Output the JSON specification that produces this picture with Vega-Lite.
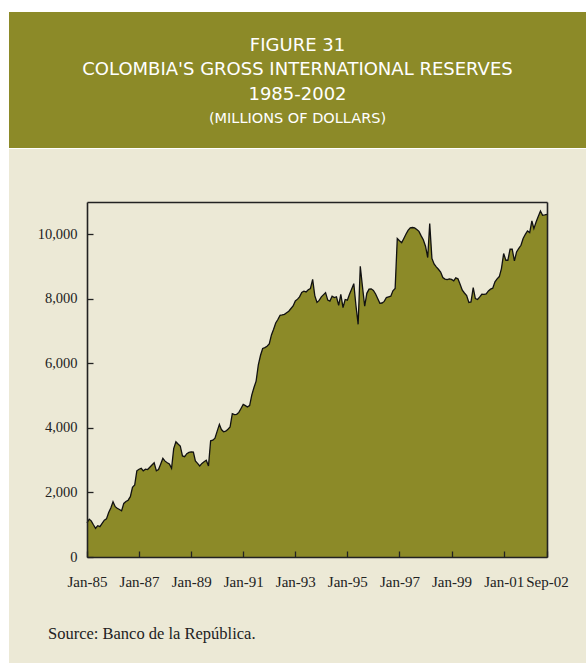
{
"$schema": "https://vega.github.io/schema/vega-lite/v6.json",
"background": "#ffffff",
"padding": {"left": 9, "top": 12, "right": 0, "bottom": 0},
"config": {"concat": {"spacing": 1}, "view": {"stroke": null}},
"vconcat": [
{
"width": 577, "height": 136,
"view": {"fill": "#8c8a28", "stroke": null},
"data": {"values": [
{"line": 1, "label": "FIGURE 31"},
{"line": 2, "label": "COLOMBIA'S GROSS INTERNATIONAL RESERVES"},
{"line": 3, "label": "1985-2002"},
{"line": 4, "label": "(MILLIONS OF DOLLARS)"}
]},
"layer": [
{"transform": [{"filter": "datum.line < 4"}],
 "mark": {"type": "text", "font": "DejaVu Sans", "fontSize": 18, "color": "#ffffff", "baseline": "middle", "align": "center"},
 "encoding": {"y": {"field": "line", "type": "ordinal", "scale": {"type": "point", "domain": [1,2,3,4], "range": [34,107], "padding": 0}, "axis": null}, "text": {"field": "label"}}},
{"transform": [{"filter": "datum.line == 4"}],
 "mark": {"type": "text", "font": "DejaVu Sans", "fontSize": 14.5, "color": "#ffffff", "baseline": "middle", "align": "center"},
 "encoding": {"y": {"field": "line", "type": "ordinal", "scale": {"type": "point", "domain": [1,2,3,4], "range": [34,107], "padding": 0}, "axis": null}, "text": {"field": "label"}}}
]
},
{
"width": 577, "height": 514,
"view": {"fill": "#ece9d6", "stroke": null},
"title": {"text": "Source: Banco de la República.", "orient": "bottom", "anchor": "start", "frame": "group", "offset": -37, "dx": 39, "font": "Liberation Serif", "fontSize": 16.5, "fontWeight": "normal", "color": "#222222"},
"data": {"values": [
{"date":"1985-01","value":1060},{"date":"1985-02","value":1170},{"date":"1985-03","value":1120},{"date":"1985-04","value":1000},{"date":"1985-05","value":890},{"date":"1985-06","value":970},{"date":"1985-07","value":940},{"date":"1985-08","value":1040},{"date":"1985-09","value":1140},{"date":"1985-10","value":1180},{"date":"1985-11","value":1380},{"date":"1985-12","value":1520},
{"date":"1986-01","value":1710},{"date":"1986-02","value":1560},{"date":"1986-03","value":1510},{"date":"1986-04","value":1470},{"date":"1986-05","value":1430},{"date":"1986-06","value":1660},{"date":"1986-07","value":1720},{"date":"1986-08","value":1760},{"date":"1986-09","value":1870},{"date":"1986-10","value":2160},{"date":"1986-11","value":2230},{"date":"1986-12","value":2670},
{"date":"1987-01","value":2720},{"date":"1987-02","value":2750},{"date":"1987-03","value":2670},{"date":"1987-04","value":2720},{"date":"1987-05","value":2710},{"date":"1987-06","value":2780},{"date":"1987-07","value":2850},{"date":"1987-08","value":2920},{"date":"1987-09","value":2670},{"date":"1987-10","value":2710},{"date":"1987-11","value":2880},{"date":"1987-12","value":3055},
{"date":"1988-01","value":2970},{"date":"1988-02","value":2920},{"date":"1988-03","value":2880},{"date":"1988-04","value":2750},{"date":"1988-05","value":3360},{"date":"1988-06","value":3570},{"date":"1988-07","value":3500},{"date":"1988-08","value":3440},{"date":"1988-09","value":3130},{"date":"1988-10","value":3110},{"date":"1988-11","value":3200},{"date":"1988-12","value":3240},
{"date":"1989-01","value":3260},{"date":"1989-02","value":3250},{"date":"1989-03","value":2980},{"date":"1989-04","value":2900},{"date":"1989-05","value":2820},{"date":"1989-06","value":2900},{"date":"1989-07","value":2950},{"date":"1989-08","value":3000},{"date":"1989-09","value":2820},{"date":"1989-10","value":3600},{"date":"1989-11","value":3620},{"date":"1989-12","value":3680},
{"date":"1990-01","value":3900},{"date":"1990-02","value":4110},{"date":"1990-03","value":3950},{"date":"1990-04","value":3880},{"date":"1990-05","value":3900},{"date":"1990-06","value":3960},{"date":"1990-07","value":4030},{"date":"1990-08","value":4440},{"date":"1990-09","value":4410},{"date":"1990-10","value":4420},{"date":"1990-11","value":4480},{"date":"1990-12","value":4600},
{"date":"1991-01","value":4730},{"date":"1991-02","value":4690},{"date":"1991-03","value":4650},{"date":"1991-04","value":4690},{"date":"1991-05","value":5015},{"date":"1991-06","value":5250},{"date":"1991-07","value":5450},{"date":"1991-08","value":5950},{"date":"1991-09","value":6250},{"date":"1991-10","value":6460},{"date":"1991-11","value":6490},{"date":"1991-12","value":6530},
{"date":"1992-01","value":6600},{"date":"1992-02","value":6880},{"date":"1992-03","value":7050},{"date":"1992-04","value":7250},{"date":"1992-05","value":7360},{"date":"1992-06","value":7490},{"date":"1992-07","value":7500},{"date":"1992-08","value":7520},{"date":"1992-09","value":7570},{"date":"1992-10","value":7616},{"date":"1992-11","value":7700},{"date":"1992-12","value":7780},
{"date":"1993-01","value":7935},{"date":"1993-02","value":7990},{"date":"1993-03","value":8060},{"date":"1993-04","value":8200},{"date":"1993-05","value":8235},{"date":"1993-06","value":8214},{"date":"1993-07","value":8280},{"date":"1993-08","value":8320},{"date":"1993-09","value":8600},{"date":"1993-10","value":8100},{"date":"1993-11","value":7890},{"date":"1993-12","value":7950},
{"date":"1994-01","value":8060},{"date":"1994-02","value":8130},{"date":"1994-03","value":8190},{"date":"1994-04","value":7960},{"date":"1994-05","value":7930},{"date":"1994-06","value":8080},{"date":"1994-07","value":8040},{"date":"1994-08","value":8060},{"date":"1994-09","value":7800},{"date":"1994-10","value":8140},{"date":"1994-11","value":7730},{"date":"1994-12","value":7980},
{"date":"1995-01","value":7960},{"date":"1995-02","value":8150},{"date":"1995-03","value":8300},{"date":"1995-04","value":8470},{"date":"1995-05","value":7800},{"date":"1995-06","value":7210},{"date":"1995-07","value":9010},{"date":"1995-08","value":8370},{"date":"1995-09","value":7770},{"date":"1995-10","value":8170},{"date":"1995-11","value":8300},{"date":"1995-12","value":8310},
{"date":"1996-01","value":8260},{"date":"1996-02","value":8150},{"date":"1996-03","value":8010},{"date":"1996-04","value":7860},{"date":"1996-05","value":7870},{"date":"1996-06","value":7920},{"date":"1996-07","value":8040},{"date":"1996-08","value":8060},{"date":"1996-09","value":8080},{"date":"1996-10","value":8250},{"date":"1996-11","value":8320},{"date":"1996-12","value":9870},
{"date":"1997-01","value":9800},{"date":"1997-02","value":9740},{"date":"1997-03","value":9860},{"date":"1997-04","value":10000},{"date":"1997-05","value":10120},{"date":"1997-06","value":10200},{"date":"1997-07","value":10210},{"date":"1997-08","value":10195},{"date":"1997-09","value":10150},{"date":"1997-10","value":10090},{"date":"1997-11","value":9950},{"date":"1997-12","value":9830},
{"date":"1998-01","value":9630},{"date":"1998-02","value":9280},{"date":"1998-03","value":10330},{"date":"1998-04","value":9250},{"date":"1998-05","value":9080},{"date":"1998-06","value":8990},{"date":"1998-07","value":8916},{"date":"1998-08","value":8830},{"date":"1998-09","value":8660},{"date":"1998-10","value":8610},{"date":"1998-11","value":8597},{"date":"1998-12","value":8620},
{"date":"1999-01","value":8600},{"date":"1999-02","value":8555},{"date":"1999-03","value":8650},{"date":"1999-04","value":8620},{"date":"1999-05","value":8450},{"date":"1999-06","value":8266},{"date":"1999-07","value":8180},{"date":"1999-08","value":8100},{"date":"1999-09","value":7885},{"date":"1999-10","value":7905},{"date":"1999-11","value":8349},{"date":"1999-12","value":8009},
{"date":"2000-01","value":7978},{"date":"2000-02","value":8060},{"date":"2000-03","value":8142},{"date":"2000-04","value":8140},{"date":"2000-05","value":8150},{"date":"2000-06","value":8245},{"date":"2000-07","value":8300},{"date":"2000-08","value":8330},{"date":"2000-09","value":8524},{"date":"2000-10","value":8620},{"date":"2000-11","value":8690},{"date":"2000-12","value":8937},
{"date":"2001-01","value":9403},{"date":"2001-02","value":9195},{"date":"2001-03","value":9195},{"date":"2001-04","value":9536},{"date":"2001-05","value":9536},{"date":"2001-06","value":9174},{"date":"2001-07","value":9452},{"date":"2001-08","value":9560},{"date":"2001-09","value":9660},{"date":"2001-10","value":9867},{"date":"2001-11","value":10000},{"date":"2001-12","value":10102},
{"date":"2002-01","value":10052},{"date":"2002-02","value":10412},{"date":"2002-03","value":10176},{"date":"2002-04","value":10381},{"date":"2002-05","value":10550},{"date":"2002-06","value":10721},{"date":"2002-07","value":10588},{"date":"2002-08","value":10600},{"date":"2002-09","value":10619}
]},
"layer": [
{
"mark": {"type": "area", "color": "#8c8a28", "opacity": 1},
"encoding": {
"x": {"field": "date", "type": "temporal",
 "scale": {"type": "utc", "domain": [{"year":1985,"month":1,"date":1,"utc":true},{"year":2002,"month":9,"date":1,"utc":true}], "range": [78, 538]},
 "axis": {"orient": "bottom", "offset": -106, "title": null, "grid": false, "zindex": 2,
  "values": [{"year":1985,"month":1,"date":1,"utc":true},{"year":1987,"month":1,"date":1,"utc":true},{"year":1989,"month":1,"date":1,"utc":true},{"year":1991,"month":1,"date":1,"utc":true},{"year":1993,"month":1,"date":1,"utc":true},{"year":1995,"month":1,"date":1,"utc":true},{"year":1997,"month":1,"date":1,"utc":true},{"year":1999,"month":1,"date":1,"utc":true},{"year":2001,"month":1,"date":1,"utc":true},{"year":2002,"month":9,"date":1,"utc":true}],
  "format": "%b-%y", "labelFlush": false, "labelOverlap": false, "labelFont": "Liberation Serif", "labelFontSize": 15, "labelColor": "#222222", "labelPadding": 23,
  "tickSize": -6, "tickColor": "#222222", "tickWidth": 1.3, "domainColor": "#222222", "domainWidth": 1.6}},
"y": {"field": "value", "type": "quantitative",
 "scale": {"domain": [0, 11000], "range": [408, 53], "nice": false, "zero": true},
 "axis": {"orient": "left", "offset": -78, "title": null, "grid": false, "zindex": 2,
  "values": [0, 2000, 4000, 6000, 8000, 10000], "format": ",.0f",
  "labelFont": "Liberation Serif", "labelFontSize": 14.5, "labelColor": "#222222", "labelPadding": 16,
  "tickSize": -6, "tickColor": "#222222", "tickWidth": 1.3, "domainColor": "#222222", "domainWidth": 1.6}}
}
},
{
"mark": {"type": "line", "color": "#111111", "strokeWidth": 1.3},
"encoding": {
"x": {"field": "date", "type": "temporal",
 "scale": {"type": "utc", "domain": [{"year":1985,"month":1,"date":1,"utc":true},{"year":2002,"month":9,"date":1,"utc":true}], "range": [78, 538]},
 "axis": {"orient": "top", "offset": -53, "title": null, "grid": false, "labels": false, "ticks": false, "zindex": 2, "domainColor": "#222222", "domainWidth": 1.6}},
"y": {"field": "value", "type": "quantitative",
 "scale": {"domain": [0, 11000], "range": [408, 53], "nice": false, "zero": true},
 "axis": {"orient": "right", "offset": -39, "title": null, "grid": false, "labels": false, "ticks": false, "zindex": 2, "domainColor": "#222222", "domainWidth": 1.6}}
}
}
],
"resolve": {"axis": {"x": "independent", "y": "independent"}}
}
]
}
